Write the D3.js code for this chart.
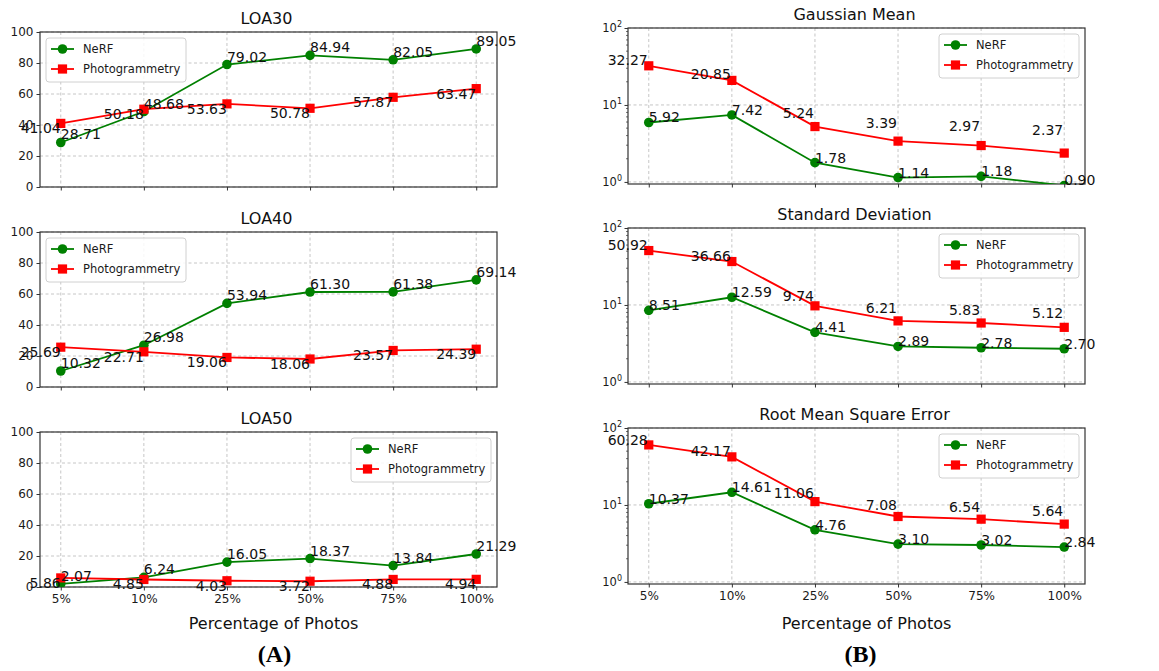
<!DOCTYPE html>
<html>
<head>
<meta charset="utf-8">
<script src="https://cdn.jsdelivr.net/npm/d3@7"></script>
<style>
  body { margin: 0; background: #fff; }
  svg { display: block; font-family: "DejaVu Sans", sans-serif; }
</style>
</head>
<body>
<div id="chart"></div>
<script>
var WIDTH = 1159, HEIGHT = 671;
var GREEN = "#008000", RED = "#ff0000";

var categories = ["5%", "10%", "25%", "50%", "75%", "100%"];
var seriesNames = ["NeRF", "Photogrammetry"];

// (A) level of accuracy, percent
var loa30Nerf  = [28.71, 48.68, 79.02, 84.94, 82.05, 89.05];
var loa30Photo = [41.04, 50.18, 53.63, 50.78, 57.87, 63.47];
var loa40Nerf  = [10.32, 26.98, 53.94, 61.30, 61.38, 69.14];
var loa40Photo = [25.69, 22.71, 19.06, 18.06, 23.57, 24.39];
var loa50Nerf  = [2.07, 6.24, 16.05, 18.37, 13.84, 21.29];
var loa50Photo = [5.86, 4.85, 4.03, 3.72, 4.88, 4.94];
var linearTicks = [0, 20, 40, 60, 80, 100];

// (B) error statistics, log scale
var meanNerf  = [5.92, 7.42, 1.78, 1.14, 1.18, 0.90];
var meanPhoto = [32.27, 20.85, 5.24, 3.39, 2.97, 2.37];
var stdNerf   = [8.51, 12.59, 4.41, 2.89, 2.78, 2.70];
var stdPhoto  = [50.92, 36.66, 9.74, 6.21, 5.83, 5.12];
var rmseNerf  = [10.37, 14.61, 4.76, 3.10, 3.02, 2.84];
var rmsePhoto = [60.28, 42.17, 11.06, 7.08, 6.54, 5.64];
var logTicks  = [1, 10, 100];

var svg = d3.select("#chart").append("svg")
  .attr("width", WIDTH).attr("height", HEIGHT);

var panels = [
  {title: "LOA30", nerf: loa30Nerf, photo: loa30Photo, log: false, x0: 40, x1: 497, y0: 32, h: 155, legend: "left", labels: false},
  {title: "LOA40", nerf: loa40Nerf, photo: loa40Photo, log: false, x0: 40, x1: 497, y0: 232, h: 155, legend: "left", labels: false},
  {title: "LOA50", nerf: loa50Nerf, photo: loa50Photo, log: false, x0: 40, x1: 497, y0: 432, h: 155, legend: "right", labels: true},
  {title: "Gaussian Mean", nerf: meanNerf, photo: meanPhoto, log: true, x0: 628, x1: 1085, y0: 28, h: 156, legend: "right", labels: false},
  {title: "Standard Deviation", nerf: stdNerf, photo: stdPhoto, log: true, x0: 628, x1: 1085, y0: 228, h: 156, legend: "right", labels: false},
  {title: "Root Mean Square Error", nerf: rmseNerf, photo: rmsePhoto, log: true, x0: 628, x1: 1085, y0: 428, h: 156, legend: "right", labels: true}
];

function drawMarker(g, type, x, y, color){
  if(type == "circle"){
    g.append("circle").attr("cx", x).attr("cy", y).attr("r", 4.8).attr("fill", color);
  } else {
    g.append("rect").attr("x", x - 4.6).attr("y", y - 4.6)
      .attr("width", 9.2).attr("height", 9.2).attr("fill", color);
  }
}

panels.forEach(function(p, pi){
  var g = svg.append("g");
  var y1 = p.y0 + p.h;

  var x = d3.scalePoint().domain(categories).range([p.x0, p.x1]).padding(0.25);
  var y = p.log
    ? d3.scaleLog().domain([0.94, 100]).range([y1, p.y0])
    : d3.scaleLinear().domain([0, 100]).range([y1, p.y0]);
  var yTicks = p.log ? logTicks : linearTicks;

  // grid
  g.selectAll(".vgrid").data(categories).enter().append("line")
    .attr("x1", function(d){ return x(d); }).attr("x2", function(d){ return x(d); })
    .attr("y1", p.y0).attr("y2", y1)
    .attr("stroke", "#b8b8b8").attr("stroke-width", 0.8).attr("stroke-dasharray", "3,2.5");
  g.selectAll(".hgrid").data(yTicks).enter().append("line")
    .attr("x1", p.x0).attr("x2", p.x1)
    .attr("y1", function(d){ return y(d); }).attr("y2", function(d){ return y(d); })
    .attr("stroke", "#b8b8b8").attr("stroke-width", 0.8).attr("stroke-dasharray", "3,2.5");

  // y axis
  var yAxis = d3.axisLeft(y).tickValues(yTicks).tickSize(3.5).tickPadding(3)
    .tickFormat(p.log ? function(){ return ""; } : d3.format("d"));
  var ya = g.append("g").attr("transform", "translate(" + p.x0 + ",0)").call(yAxis);
  ya.select(".domain").remove();
  ya.selectAll("line").attr("stroke", "#333");
  ya.selectAll("text").attr("font-size", 12).attr("fill", "#1a1a1a")
    .attr("font-family", "DejaVu Sans");

  if(p.log){
    // minor ticks
    var minor = [];
    [1, 10].forEach(function(b){ for(var k = 2; k <= 9; k++) minor.push(b * k); });
    g.selectAll(".minor").data(minor).enter().append("line")
      .attr("x1", p.x0 - 2).attr("x2", p.x0)
      .attr("y1", function(d){ return y(d); }).attr("y2", function(d){ return y(d); })
      .attr("stroke", "#333").attr("stroke-width", 0.7);
    // 10^n labels
    logTicks.forEach(function(t){
      var lab = g.append("text")
        .attr("x", p.x0 - 6).attr("y", y(t) + 4)
        .attr("text-anchor", "end").attr("font-size", 11.5).attr("fill", "#1a1a1a");
      lab.append("tspan").text("10");
      lab.append("tspan").attr("font-size", 8).attr("dy", -5).text(Math.round(Math.log10(t)));
    });
  }

  // x axis
  var xAxis = d3.axisBottom(x).tickSize(3.5).tickPadding(4)
    .tickFormat(p.labels ? function(d){ return d; } : function(){ return ""; });
  var xa = g.append("g").attr("transform", "translate(0," + y1 + ")").call(xAxis);
  xa.select(".domain").remove();
  xa.selectAll("line").attr("stroke", "#333");
  xa.selectAll("text").attr("font-size", 12).attr("fill", "#1a1a1a")
    .attr("font-family", "DejaVu Sans");

  // frame
  g.append("rect").attr("x", p.x0).attr("y", p.y0)
    .attr("width", p.x1 - p.x0).attr("height", p.h)
    .attr("fill", "none").attr("stroke", "#333").attr("stroke-width", 1.2);

  // title
  g.append("text").attr("x", (p.x0 + p.x1) / 2 - 2).attr("y", p.y0 - 8)
    .attr("text-anchor", "middle").attr("font-size", 16).attr("fill", "#111")
    .text(p.title);

  // clip for data
  svg.append("clipPath").attr("id", "clip" + pi).append("rect")
    .attr("x", p.x0).attr("y", p.y0).attr("width", p.x1 - p.x0).attr("height", p.h);
  var dg = g.append("g").attr("clip-path", "url(#clip" + pi + ")");

  var line = d3.line()
    .x(function(d, i){ return x(categories[i]); })
    .y(function(d){ return y(d); });

  var series = [
    {values: p.nerf, color: GREEN, marker: "circle"},
    {values: p.photo, color: RED, marker: "square"}
  ];
  series.forEach(function(s){
    dg.append("path").datum(s.values).attr("d", line)
      .attr("fill", "none").attr("stroke", s.color).attr("stroke-width", 1.8);
    s.values.forEach(function(v, i){
      drawMarker(dg, s.marker, x(categories[i]), y(v), s.color);
    });
  });

  // value labels
  p.nerf.forEach(function(v, i){
    g.append("text")
      .attr("x", x(categories[i])).attr("y", p.log ? y(v) : y(v) - 3)
      .attr("font-size", 14).attr("fill", "#111")
      .text(v.toFixed(2));
  });
  p.photo.forEach(function(v, i){
    g.append("text")
      .attr("x", x(categories[i]) - (p.log ? 1 : 0))
      .attr("y", p.log ? y(v + 1.8) + 1 : y(v) + 10)
      .attr("text-anchor", "end")
      .attr("font-size", 14).attr("fill", "#111")
      .text(v.toFixed(2));
  });

  // legend
  var lw = 140, lh = 44;
  var lx = p.legend == "left" ? p.x0 + 6 : p.x1 - 6 - lw;
  var ly = p.y0 + 6;
  var lg = g.append("g").attr("transform", "translate(" + lx + "," + ly + ")");
  lg.append("rect").attr("width", lw).attr("height", lh).attr("rx", 3)
    .attr("fill", "#fff").attr("fill-opacity", 0.85)
    .attr("stroke", "#d0d0d0").attr("stroke-width", 1);
  series.forEach(function(s, i){
    var ry = 11 + i * 20;
    lg.append("line").attr("x1", 5).attr("x2", 28).attr("y1", ry).attr("y2", ry)
      .attr("stroke", s.color).attr("stroke-width", 1.8);
    drawMarker(lg, s.marker, 16.5, ry, s.color);
    lg.append("text").attr("x", 37).attr("y", ry + 4)
      .attr("font-size", 11.5).attr("fill", "#1a1a1a").text(seriesNames[i]);
  });

  if(p.labels){
    svg.append("text").attr("x", (p.x0 + p.x1) / 2 + (p.log ? 10 : 5)).attr("y", 629)
      .attr("text-anchor", "middle").attr("font-size", 16).attr("fill", "#111")
      .text("Percentage of Photos");
    svg.append("text").attr("x", (p.x0 + p.x1) / 2 + (p.log ? 4 : 6)).attr("y", 662)
      .attr("text-anchor", "middle").attr("font-size", 24).attr("font-weight", "bold")
      .attr("font-family", "Liberation Serif, serif").attr("fill", "#000")
      .text(p.log ? "(B)" : "(A)");
  }
});
</script>
</body>
</html>
